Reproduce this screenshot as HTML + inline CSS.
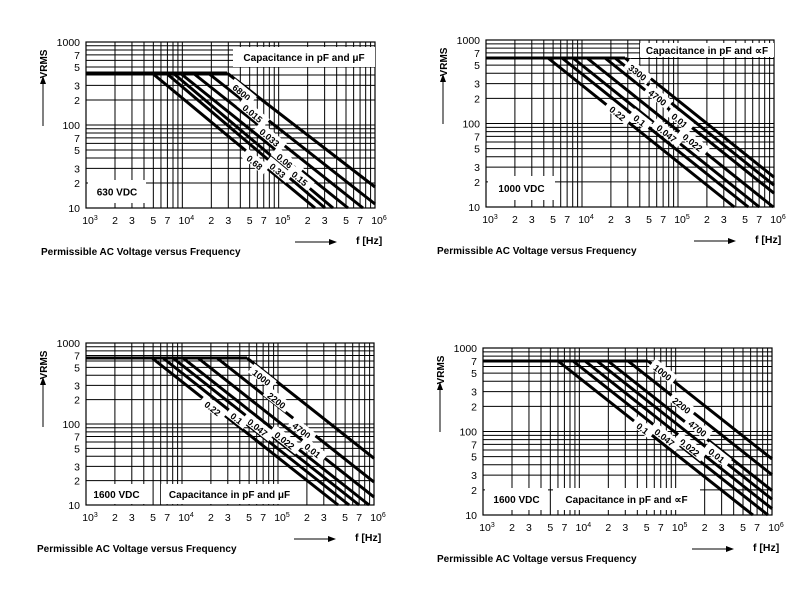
<!DOCTYPE html>
<html><head><meta charset="utf-8">
<style>
html,body{margin:0;padding:0;background:#fff;}
svg{display:block;}
text{font-family:"Liberation Sans",Arial,sans-serif;fill:#000;}
</style></head>
<body>
<svg id="s" width="804" height="596" xmlns="http://www.w3.org/2000/svg"></svg>
<script>
const S=document.getElementById('s');
let out='';
function charts(c){
 const L=c.l,R=c.r,T=c.t,B=c.b,dx=(R-L)/3,dy=(B-T)/2;
 const X=v=>L+Math.log10(v/1000)*dx, Y=v=>B-Math.log10(v/10)*dy;
 // grid
 for(let d=0;d<3;d++)for(let k=1;k<10;k++){const x=X(1000*Math.pow(10,d)*k);out+=`<line x1="${x}" y1="${T}" x2="${x}" y2="${B}" stroke="#000" stroke-width="1"/>`;}
 for(let d=0;d<2;d++)for(let k=1;k<10;k++){const y=Y(10*Math.pow(10,d)*k);out+=`<line x1="${L}" y1="${y}" x2="${R}" y2="${y}" stroke="#000" stroke-width="1"/>`;}
 out+=`<rect x="${L}" y="${T}" width="${R-L}" height="${B-T}" fill="none" stroke="#000" stroke-width="1.2"/>`;
 // boxes
 c.boxes.forEach(b=>{out+=`<rect x="${b[0]}" y="${b[1]}" width="${b[2]}" height="${b[3]}" fill="#fff"/>`;
  out+=`<text x="${b[0]+b[2]/2}" y="${b[1]+b[3]/2+4}" font-size="10" font-weight="bold" text-anchor="middle">${b[4]}</text>`;});
 // series
 out+=`<line x1="${L}" y1="${c.fy}" x2="${c.starts[c.starts.length-1]}" y2="${c.fy}" stroke="#000" stroke-width="3"/>`;
 c.starts.forEach((s,i)=>{let ex,ey;if(c.ends&&c.ends[i]){ex=c.ends[i][0];ey=c.ends[i][1];}else{ex=s+(B-c.fy)/c.k;ey=B;if(ex>R){ex=R;ey=c.fy+(R-s)*c.k;}}
  out+=`<line x1="${s}" y1="${c.fy}" x2="${ex}" y2="${ey}" stroke="#000" stroke-width="3"/>`;});
 const ang=Math.atan(c.k)*180/Math.PI;
 c.labels.forEach(l=>{const w=l[2].length*5.6+6;
  out+=`<g transform="translate(${l[0]},${l[1]}) rotate(${ang})"><rect x="${-w/2}" y="-6" width="${w}" height="11" fill="#fff"/><text x="0" y="4" font-size="9" font-weight="bold" text-anchor="middle">${l[2]}</text></g>`;});
 // y labels
 [[1000,'1000'],[700,'7'],[500,'5'],[300,'3'],[200,'2'],[100,'100'],[70,'7'],[50,'5'],[30,'3'],[20,'2'],[10,'10']].forEach(a=>{out+=`<text x="${L-6}" y="${Y(a[0])+4}" font-size="10.5" text-anchor="end">${a[1]}</text>`;});
 // x labels
 const xl=[[1e3,'10<tspan font-size="7" dy="-4">3</tspan>'],[2e3,'2'],[3e3,'3'],[5e3,'5'],[7e3,'7'],[1e4,'10<tspan font-size="7" dy="-4">4</tspan>'],[2e4,'2'],[3e4,'3'],[5e4,'5'],[7e4,'7'],[1e5,'10<tspan font-size="7" dy="-4">5</tspan>'],[2e5,'2'],[3e5,'3'],[5e5,'5'],[7e5,'7'],[1e6,'10<tspan font-size="7" dy="-4">6</tspan>']];
 xl.forEach(a=>{const big=a[1].length>3;out+=`<text x="${X(a[0])+(big?4:0)}" y="${B+16}" font-size="10.5" text-anchor="middle">${a[1]}</text>`;});
 // axis titles
 out+=`<text transform="translate(${L-39},${T+22}) rotate(-90)" font-size="10" font-weight="bold" text-anchor="middle">VRMS</text>`;
 out+=`<line x1="${L-43}" y1="${T+84}" x2="${L-43}" y2="${T+40}" stroke="#000" stroke-width="1"/><path d="M${L-46},${T+42} L${L-43},${T+34} L${L-40},${T+42}Z"/>`;
 out+=`<line x1="${R-80}" y1="${B+34}" x2="${R-45}" y2="${B+34}" stroke="#000" stroke-width="1"/><path d="M${R-46},${B+31} L${R-38},${B+34} L${R-46},${B+37}Z"/>`;
 out+=`<text x="${R-19}" y="${B+36}" font-size="10.5" font-weight="bold">f [Hz]</text>`;
 out+=`<text x="${c.tx}" y="${B+47}" font-size="10" font-weight="bold">Permissible AC Voltage versus Frequency</text>`;
}
charts({l:86,r:375,t:42,b:208,fy:73,k:0.83,tx:41,
 starts:[152,166,173,180,193,208,227],
 ends:[[315,208],[325,208],[333,208],[348,208],[363,208],[375,204],[375,187]],
 boxes:[[233,47,142,20,'Capacitance in pF and μF'],[88,180,58,23,'630 VDC']],
 labels:[[242,92,'6800'],[253,113,'0.015'],[270,137,'0.033'],[287,162,'0.068'],[300,178,'0.15'],[278,170,'0.33'],[255,162,'0.68']]});
charts({l:486,r:774,t:40,b:207,fy:58,k:0.8,tx:437,
 starts:[548,562,573,587,605,615,625],
 boxes:[[640,43,134,14,'Capacitance in pF and ∝F'],[488,176,67,24,'1000 VDC']],
 labels:[[638,72,'3300'],[658,97,'4700'],[680,120,'0.01'],[693,142,'0.022'],[667,133,'0.047'],[640,120,'0.1'],[618,113,'0.22']]});
charts({l:86,r:374,t:343,b:505,fy:358,k:0.79,tx:37,
 starts:[152,163,173,183,198,217,247],
 boxes:[[88,484,57,20,'1600 VDC'],[161,484,137,20,'Capacitance in pF and μF']],
 labels:[[262,377,'1000'],[277,400,'2200'],[302,430,'4700'],[313,450,'0.01'],[285,440,'0.022'],[258,427,'0.047'],[237,418,'0.1'],[213,408,'0.22']]});
charts({l:483,r:772,t:348,b:515,fy:361,k:0.79,tx:437,
 starts:[558,573,585,597,608,628,648],
 boxes:[[485,488,63,22,'1600 VDC'],[553,488,147,22,'Capacitance in pF and ∝F']],
 labels:[[663,372,'1000'],[682,405,'2200'],[698,428,'4700'],[717,455,'0.01'],[690,447,'0.022'],[665,437,'0.047'],[643,428,'0.1']]});
S.innerHTML=out;
</script>
</body></html>
